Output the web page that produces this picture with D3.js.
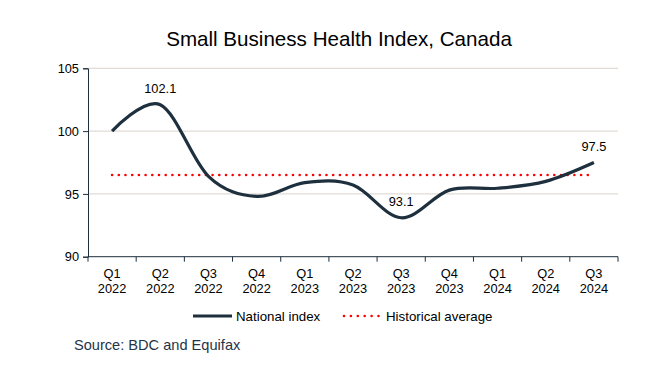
<!DOCTYPE html>
<html><head><meta charset="utf-8">
<script src="https://cdn.jsdelivr.net/npm/d3@7"></script>
<style>body{margin:0;background:#fff;font-family:"Liberation Sans",Arial,sans-serif;}</style>
</head><body>
<svg id="c" width="655" height="388"></svg>
<script>
const quarters = ["Q1","Q2","Q3","Q4","Q1","Q2","Q3","Q4","Q1","Q2","Q3"];
const years = ["2022","2022","2022","2022","2023","2023","2023","2023","2024","2024","2024"];
const nationalIndex = [100.0,102.1,96.4,94.8,95.9,95.7,93.1,95.3,95.45,96.0,97.5];
const historicalAverage = 96.5;
const labelIdx = [1,6,10];
const yTicks = [90,95,100,105];

const svg = d3.select("#c");
const m = {l:88, r:618, t:68.3, b:256.7};
const cats = d3.range(quarters.length);
const x = d3.scaleBand().domain(cats).range([m.l, m.r]);
const y = d3.scaleLinear().domain([90,105]).range([m.b, m.t]);
const cx = i => x(i) + x.bandwidth()/2;
const navy = "#1e2f3e";
const fs = 12.8;

svg.append("text").attr("x",339).attr("y",46).attr("text-anchor","middle")
  .attr("font-size",20.6).attr("fill","#000").text("Small Business Health Index, Canada");

// gridlines
svg.append("g").selectAll("line").data(yTicks.filter(v=>v>90)).join("line")
  .attr("x1",m.l).attr("x2",m.r).attr("y1",d=>y(d)).attr("y2",d=>y(d))
  .attr("stroke","#d9d3cd").attr("stroke-width",1);

// y axis
const ya = svg.append("g").attr("transform",`translate(${m.l},0)`)
  .call(d3.axisLeft(y).tickValues(yTicks).tickSize(5).tickPadding(4));
ya.select(".domain").attr("stroke",navy);
ya.selectAll(".tick line").attr("stroke",navy);
ya.selectAll("text").attr("font-size",fs).attr("fill","#000").attr("font-family","Liberation Sans, Arial, sans-serif");

// x axis
const xa = svg.append("g").attr("transform",`translate(0,${m.b})`);
xa.append("line").attr("x1",m.l).attr("x2",m.r).attr("stroke",navy);
const edges = d3.range(quarters.length+1).map(i => m.l + i*x.bandwidth());
xa.selectAll("line.t").data(edges).join("line").attr("class","t")
  .attr("x1",d=>d).attr("x2",d=>d).attr("y1",0).attr("y2",5).attr("stroke",navy);
xa.selectAll("text.q").data(cats).join("text").attr("class","q")
  .attr("x",d=>cx(d)).attr("y",21).attr("text-anchor","middle").attr("font-size",fs)
  .text(d=>quarters[d]);
xa.selectAll("text.yr").data(cats).join("text").attr("class","yr")
  .attr("x",d=>cx(d)).attr("y",36).attr("text-anchor","middle").attr("font-size",fs)
  .text(d=>years[d]);

// historical average
svg.append("line").attr("x1",cx(0)).attr("x2",cx(quarters.length-1))
  .attr("y1",y(historicalAverage)).attr("y2",y(historicalAverage))
  .attr("stroke","#ff0000").attr("stroke-width",2.6)
  .attr("stroke-dasharray","0,6.7").attr("stroke-linecap","round");

// national index line
const line = d3.line().x((d,i)=>cx(i)).y(d=>y(d)).curve(d3.curveCatmullRom.alpha(0));
svg.append("path").datum(nationalIndex).attr("d",line).attr("fill","none")
  .attr("stroke",navy).attr("stroke-width",3.2);

// data labels
svg.append("g").selectAll("text").data(labelIdx).join("text")
  .attr("x",i=>cx(i)).attr("y",i=>y(nationalIndex[i])-12).attr("text-anchor","middle")
  .attr("font-size",fs).attr("fill","#000").text(i=>nationalIndex[i].toFixed(1));

// legend
const lg = svg.append("g");
lg.append("line").attr("x1",193).attr("x2",232).attr("y1",316).attr("y2",316)
  .attr("stroke",navy).attr("stroke-width",3.2);
lg.append("text").attr("x",236).attr("y",320.7).attr("font-size",13.3).text("National index");
lg.append("line").attr("x1",344).attr("x2",380).attr("y1",316).attr("y2",316)
  .attr("stroke","#ff0000").attr("stroke-width",2.6).attr("stroke-dasharray","0,6.9").attr("stroke-linecap","round");
lg.append("text").attr("x",386).attr("y",320.7).attr("font-size",13.3).text("Historical average");

svg.append("text").attr("x",74).attr("y",350).attr("font-size",14.6).attr("fill","#1f3447")
  .text("Source: BDC and Equifax");
</script>
</body></html>
